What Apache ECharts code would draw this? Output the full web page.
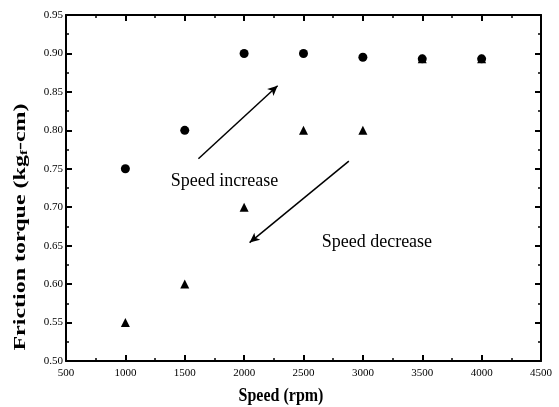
<!DOCTYPE html>
<html><head><meta charset="utf-8">
<script src="https://cdn.jsdelivr.net/npm/echarts@6/dist/echarts.min.js"></script>
<style>html,body{margin:0;padding:0;background:#fff}#c{width:559px;height:407px}</style>
</head><body><div id="c"></div>
<script>
const speeds = [1000, 1500, 2000, 2500, 3000, 3500, 4000];
const torqueIncrease = [0.75, 0.80, 0.90, 0.90, 0.895, 0.893, 0.893];
const torqueDecrease = [0.55, 0.60, 0.70, 0.80, 0.80, 0.893, 0.893];
const arrowIncrease = [[1615, 0.763], [2282, 0.858]];
const arrowDecrease = [[2882, 0.760], [2046, 0.654]];
const labelIncrease = [1834, 0.734, 'Speed increase'];
const labelDecrease = [3118, 0.654, 'Speed decrease'];
const xTitle = 'Speed (rpm)';
const yTitle = 'Friction torque (kg{sub|f}-cm)';

const font = 'Liberation Serif, DejaVu Serif, serif';
const chart = echarts.init(document.getElementById('c'));
const axisCommon = {
  axisLine: {show: true, lineStyle: {color: '#000', width: 2}},
  axisTick: {show: true, inside: true, length: 6, lineStyle: {color: '#000', width: 2}},
  minorTick: {show: true, splitNumber: 2, length: 3, lineStyle: {color: '#000', width: 1.5}},
  splitLine: {show: false}
};
chart.setOption({
  animation: false,
  grid: {left: 66, right: 18, top: 15, bottom: 46},
  graphic: [
    {type: 'text', x: 281, y: 396, scaleY: 1.15, silent: true,
      style: {text: xTitle, fontFamily: font, fontWeight: 'bold', fontSize: 16, fill: '#000',
        align: 'center', verticalAlign: 'middle'}},
    {type: 'text', x: 21, y: 227, rotation: Math.PI / 2, scaleX: 1.5, silent: true,
      style: {text: yTitle, fontFamily: font, fontWeight: 'bold', fontSize: 16, fill: '#000',
        align: 'center', verticalAlign: 'middle',
        rich: {sub: {fontFamily: font, fontWeight: 'bold', fontSize: 10, fill: '#000', padding: [7, 0, 0, 0]}}}}
  ],
  xAxis: [
    Object.assign({type: 'value', min: 500, max: 4500, interval: 500,
      axisLabel: {fontFamily: font, fontSize: 11, color: '#000', margin: 7,
        formatter: v => String(v)}}, axisCommon),
    Object.assign({type: 'value', min: 500, max: 4500, interval: 500, position: 'top',
      axisLabel: {show: false}}, axisCommon)
  ],
  yAxis: [
    Object.assign({type: 'value', min: 0.5, max: 0.95, interval: 0.05,
      axisLabel: {fontFamily: font, fontSize: 11, color: '#000', margin: 3,
        formatter: v => v.toFixed(2)}}, axisCommon),
    Object.assign({type: 'value', min: 0.5, max: 0.95, interval: 0.05, position: 'right',
      axisLabel: {show: false}}, axisCommon)
  ],
  series: [
    {type: 'scatter', symbol: 'circle', symbolSize: 9, itemStyle: {color: '#000', opacity: 1},
      data: speeds.map((s, i) => [s, torqueIncrease[i]])},
    {type: 'scatter', symbol: 'triangle', symbolSize: 9, itemStyle: {color: '#000', opacity: 1},
      data: speeds.map((s, i) => [s, torqueDecrease[i]]),
      markLine: {silent: true, symbol: ['none', 'arrow'], symbolSize: [7, 10],
        lineStyle: {color: '#000', width: 1.5, type: 'solid', opacity: 1}, label: {show: false},
        data: [
          [{coord: arrowIncrease[0]}, {coord: arrowIncrease[1]}],
          [{coord: arrowDecrease[0]}, {coord: arrowDecrease[1]}]
        ]}},
    {type: 'scatter', symbolSize: 0, silent: true, itemStyle: {opacity: 1},
      label: {show: true, position: 'inside', formatter: p => p.data[2],
        fontFamily: font, fontSize: 18, color: '#000', opacity: 1},
      data: [labelIncrease, labelDecrease]}
  ]
});
</script></body></html>
